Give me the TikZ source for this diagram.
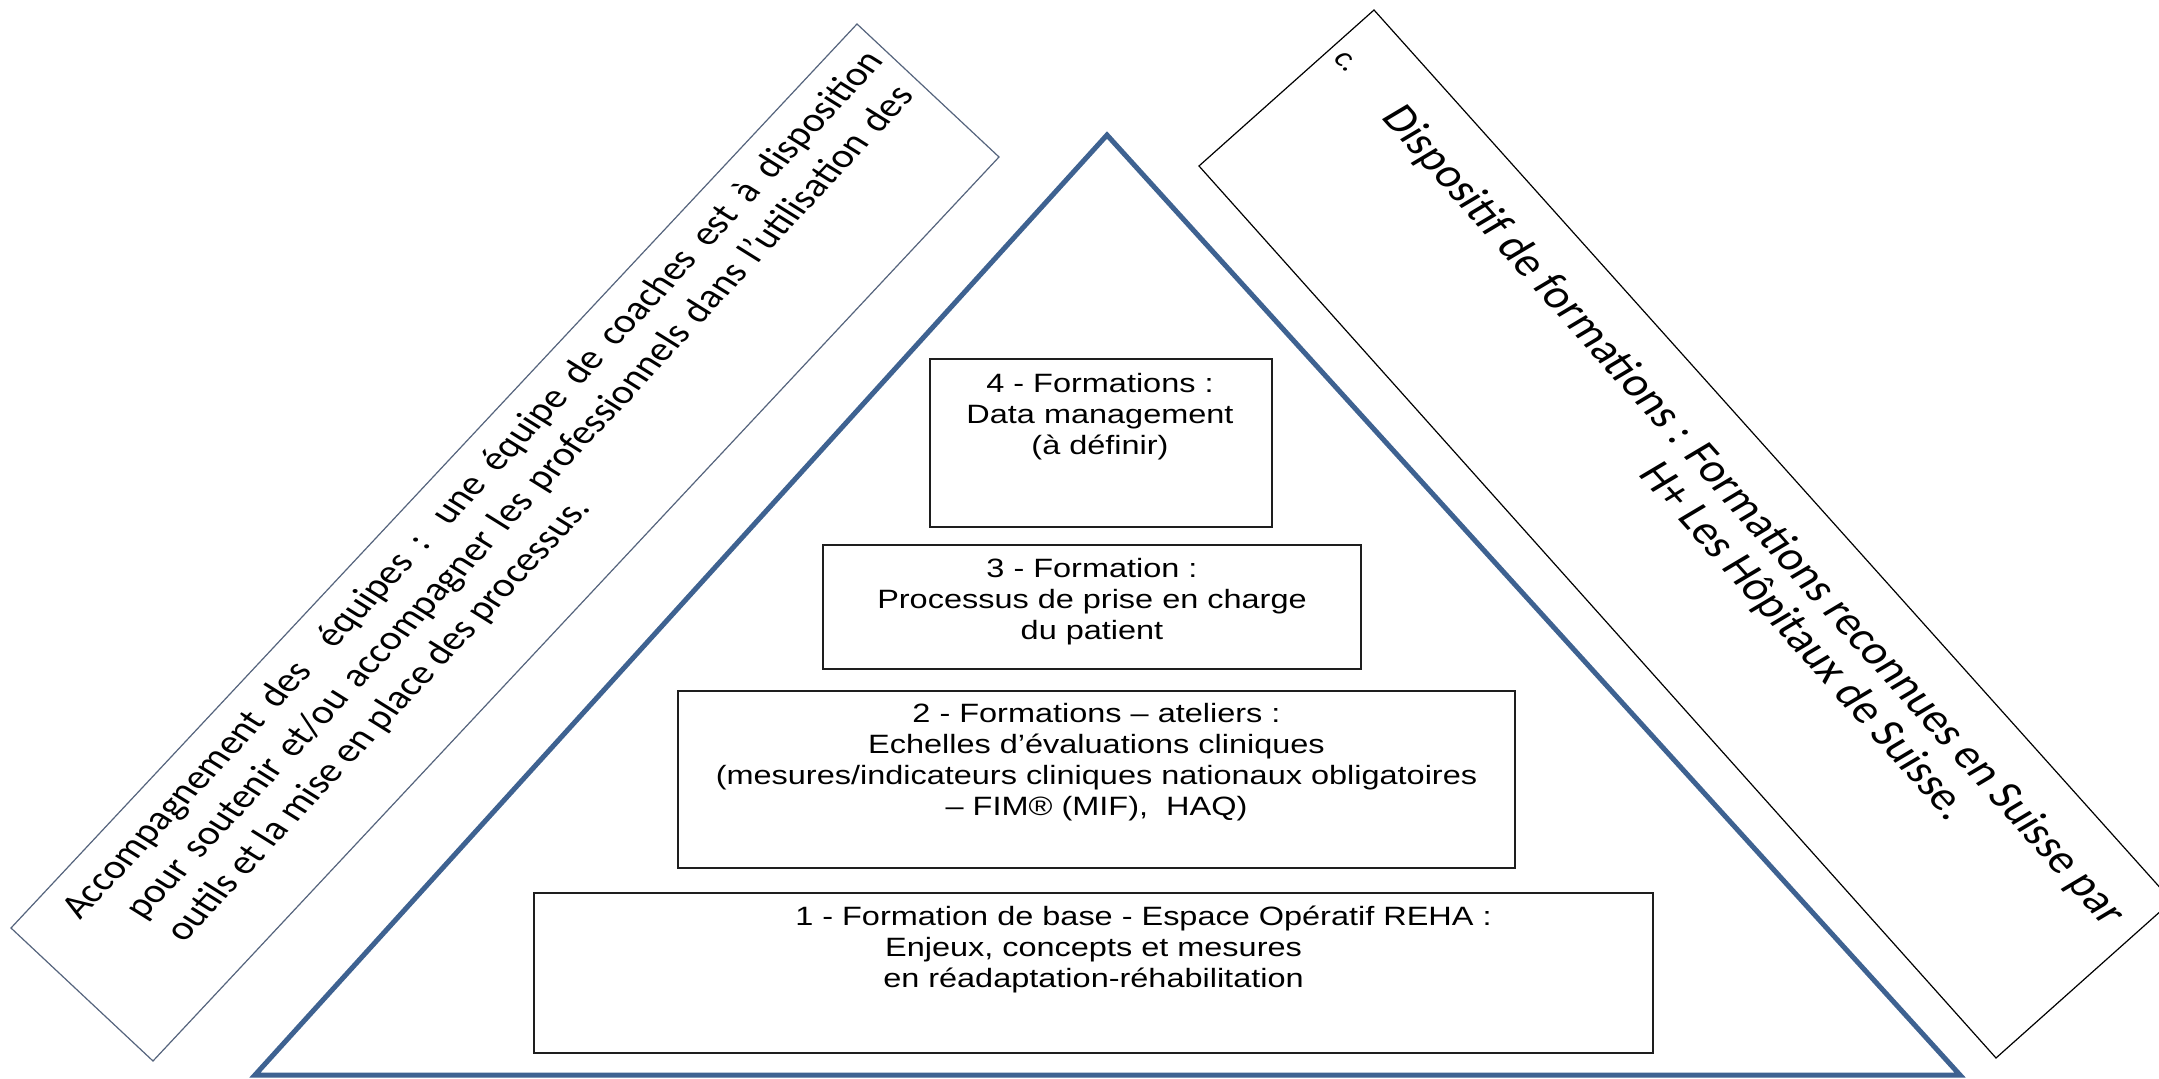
\documentclass[tikz,border=0pt]{standalone}
\usepackage{fontspec}
\newfontfamily\arialf{Liberation Sans}
\newfontfamily\calif{Carlito}
\usetikzlibrary{fit}
\definecolor{triblue}{RGB}{62,98,145}
\definecolor{lboxc}{RGB}{85,100,125}
\definecolor{boxline}{RGB}{30,30,30}
\begin{document}
\begin{tikzpicture}[x=0.5pt,y=-0.5pt,
  box/.style={draw=boxline, line width=1pt, inner sep=0pt},
  btext/.style={anchor=base, inner sep=0pt, xscale=1.225, font=\arialf\fontsize{13.25}{15.5}\selectfont},
  ltext/.style={anchor=base west, inner sep=0pt, xscale=1.225, rotate=52.62, font=\calif\fontsize{17}{20}\selectfont},
  rtext/.style={anchor=base west, inner sep=0pt, xscale=1.225, rotate=-53.88, font=\calif\fontsize{20}{24}\selectfont}]
\useasboundingbox[fill=white] (0,0) rectangle (2159,1079);
\begin{scope}
\clip (0,0) rectangle (2159,1079);
% triangle
\coordinate (apex) at (1107,135);
\coordinate (bl) at (255,1075);
\coordinate (br) at (1960,1075);
\draw[triblue, line width=2.5pt] (apex) -- (br) -- (bl) -- cycle;
% left rotated box
\coordinate (la) at (11,928);
\coordinate (lb) at (857,24);
\coordinate (lc) at (999,157);
\coordinate (ld) at (153,1061);
\draw[lboxc, line width=0.6pt] (la) -- (lb) -- (lc) -- (ld) -- cycle;
% right rotated box
\coordinate (ra) at (1374,10);
\coordinate (rb) at (2172,901);
\coordinate (rc) at (1996,1058);
\coordinate (rd) at (1199,166);
\draw[black, line width=0.6pt] (ra) -- (rb) -- (rc) -- (rd) -- cycle;
\end{scope}
% boxes
\node[box, fit={(930,359) (1272,527)}] (b4) {};
\node[box, fit={(823,545) (1361,669)}] (b3) {};
\node[box, fit={(678,691) (1515,868)}] (b2) {};
\node[box, fit={(534,893) (1653,1053)}] (b1) {};
\node[btext] (t4) at (1100,393) {\begin{tabular}[t]{@{}c@{}}4 - Formations :\\Data management\\(à définir)\end{tabular}};
\node[btext] (t3) at (1092,578) {\begin{tabular}[t]{@{}c@{}}3 - Formation :\\Processus de prise en charge\\du patient\end{tabular}};
\node[btext] (t2) at (1096.5,723) {\begin{tabular}[t]{@{}c@{}}2 - Formations – ateliers :\\Echelles d’évaluations cliniques\\(mesures/indicateurs cliniques nationaux obligatoires\\– FIM® (MIF),\ \ HAQ)\end{tabular}};
\node[btext] (t1) at (1093.5,925) {\begin{tabular}[t]{@{}c@{}}\hspace{40.8pt}1 - Formation de base - Espace Opératif REHA :\\Enjeux, concepts et mesures\\en réadaptation-réhabilitation\end{tabular}};
% left box text
\node[ltext] (l1) at (80,921) {\makebox[541pt][s]{Accompagnement des\ \ équipes : une équipe de coaches est à disposition}};
\node[ltext] (l2) at (143,921) {\makebox[519pt][s]{pour soutenir et/ou accompagner les professionnels dans l’utilisation des}};
\node[ltext] (l3) at (184,944) {outils et la mise en place des processus.};
% right box text
\node[rtext, anchor=center, font=\calif\fontsize{14}{16}\selectfont] (rcn) at (1346,62) {c.};
\node[rtext] (r1) at (1380,117) {Dispositif de formations : Formations reconnues en Suisse par};
\node[rtext] (r2) at (1637,474) {H+ Les Hôpitaux de Suisse.};
\end{tikzpicture}
\end{document}
